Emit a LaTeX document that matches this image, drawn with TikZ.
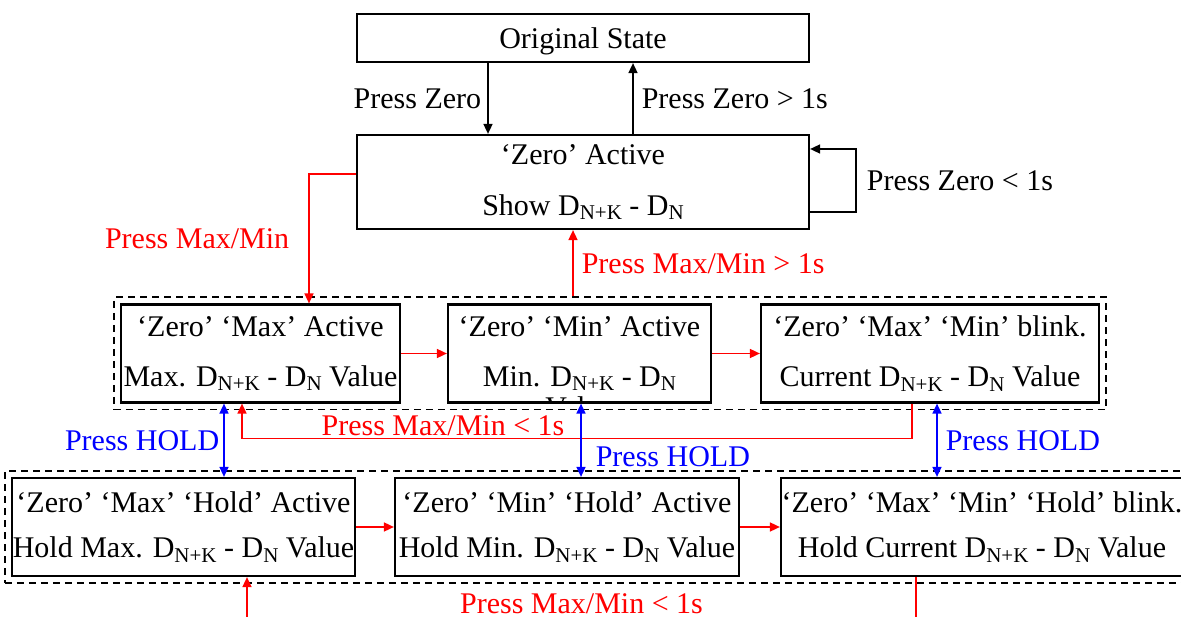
\documentclass[tikz,border=0pt]{standalone}
\usepackage{fontspec}
\setmainfont{Liberation Serif}
\usetikzlibrary{positioning, arrows.meta, fit, calc}

% D with a lowered index, as in the display texts
\newcommand{\Dsub}[1]{D\raisebox{-0.15em}{\fontsize{21}{21}\selectfont #1}}

\begin{document}
\begin{tikzpicture}[
    x=1pt, y=-1pt,
    % Global Styles
    font=\fontsize{30}{36}\selectfont,
    >={Triangle[length=10pt, width=9pt]},
    % Style for the state boxes
    state_box/.style={draw, line width=2.2pt, inner sep=0pt, align=center, minimum height=98pt},
    % Style for the dashed groups
    group_box/.style={draw, line width=1.8pt, dash pattern=on 7pt off 5pt, inner sep=6pt},
    % --- STYLES FOR TRANSITIONS ---
    blk_arr/.style={->, line width=1.6pt, black},
    red_arr/.style={->, line width=1.6pt, red},
    blue_arr/.style={<->, line width=1.6pt, blue},
    % Style for transition labels
    lbl/.style={inner sep=2pt}
]
\useasboundingbox (0,0) rectangle (1181,617);

%% --- TOP: ORIGINAL AND ZERO STATE ---
\node[state_box, minimum width=452pt, minimum height=48pt, text depth=0pt] (orig) at (583,38) {Original State};
\node[state_box, minimum width=452pt, minimum height=94pt] (zact) at (583,182)
    {‘Zero’ Active\\[15pt]Show \Dsub{N+K} - \Dsub{N}};

%% --- MIDDLE ROW: MAX / MIN ---
\node[state_box, minimum width=279pt] (maxA) at (260.5,353.5)
    {‘Zero’ ‘Max’ Active\\[14pt]Max. \Dsub{N+K} - \Dsub{N} Value};
\node[state_box, minimum width=263pt] (minA) at (579.5,353.5)
    {‘Zero’ ‘Min’ Active\\[14pt]Min. \Dsub{N+K} - \Dsub{N}};
\node[state_box, minimum width=338pt] (blink) at (930,353.5)
    {‘Zero’ ‘Max’ ‘Min’ blink.\\[14pt]Current \Dsub{N+K} - \Dsub{N} Value};

% overflowing last line of the Min box
\begin{scope}
    \clip (minA.south west) rectangle (minA.north east);
    \node[inner sep=0pt] (minval) at ([yshift=-4pt]minA.south) {Value};
\end{scope}

%% --- BOTTOM ROW: HOLD ---
\node[state_box, minimum width=343pt] (maxH) at (183.5,527)
    {‘Zero’ ‘Max’ ‘Hold’ Active\\[9pt]Hold Max. \Dsub{N+K} - \Dsub{N} Value};
\node[state_box, minimum width=344pt] (minH) at (567,527)
    {‘Zero’ ‘Min’ ‘Hold’ Active\\[9pt]Hold Min. \Dsub{N+K} - \Dsub{N} Value};
\node[state_box, minimum width=402pt] (blinkH) at (982,527)
    {‘Zero’ ‘Max’ ‘Min’ ‘Hold’ blink.\\[9pt]Hold Current \Dsub{N+K} - \Dsub{N} Value};

% Dashed groups
\node[group_box, fit=(maxA)(minA)(blink)] (grpA) {};
\node[group_box, fit=(maxH)(minH)(blinkH), xscale=1] (grpH) {};

%% --- ZERO TRANSITIONS ---
\draw[blk_arr] ([xshift=-95pt]orig.south) -- ([xshift=-95pt]zact.north)
    node[lbl, midway, left=4pt] {Press Zero};
\draw[blk_arr] ([xshift=50pt]zact.north) -- ([xshift=50pt]orig.south)
    node[lbl, midway, right=6pt] {Press Zero > 1s};
\draw[blk_arr] ([yshift=-30pt]zact.east) -| ([xshift=46pt, yshift=33pt]zact.east)
    node[lbl, pos=0.75, right=8pt] {Press Zero < 1s} -- ([yshift=33pt]zact.east);

%% --- MAX/MIN TRANSITIONS ---
\draw[red_arr] ([yshift=8pt]zact.west) -| ([xshift=48.5pt]maxA.north)
    node[lbl, pos=0.75, left=17pt] {Press Max/Min};
\draw[red_arr] ($(zact.south |- grpA.north)+(-10,0)$) -- ([xshift=-10pt]zact.south)
    node[lbl, midway, right=6pt] {Press Max/Min > 1s};
\draw[red_arr] (maxA) -- (minA);
\draw[red_arr] (minA) -- (blink);
\draw[red_arr] ([xshift=-18pt]blink.south) -- ++(0,35) -| ([xshift=-18.5pt]maxA.south)
    node[lbl, pos=0.35, above=0pt] {Press Max/Min < 1s};

%% --- HOLD TRANSITIONS ---
\draw[blue_arr] ([xshift=-36.5pt]maxA.south) -- ([xshift=40.5pt]maxH.north)
    node[lbl, midway, left=2pt] {Press HOLD};
\draw[blue_arr] ([xshift=1.5pt]minA.south) -- ([xshift=14pt]minH.north)
    node[lbl, pos=0.72, right=12pt] {Press HOLD};
\draw[blue_arr] ([xshift=7pt]blink.south) -- ([xshift=-45pt]blinkH.north)
    node[lbl, midway, right=6pt] {Press HOLD};

%% --- HOLD MAX/MIN TRANSITIONS ---
\draw[red_arr] (maxH) -- (minH);
\draw[red_arr] (minH) -- (blinkH);
\draw[red_arr] ([xshift=-66pt]blinkH.south) -- ++(0,60) -| ([xshift=63.5pt]maxH.south)
    node[lbl, pos=0.25, above=21pt] {Press Max/Min < 1s};

\end{tikzpicture}
\end{document}
